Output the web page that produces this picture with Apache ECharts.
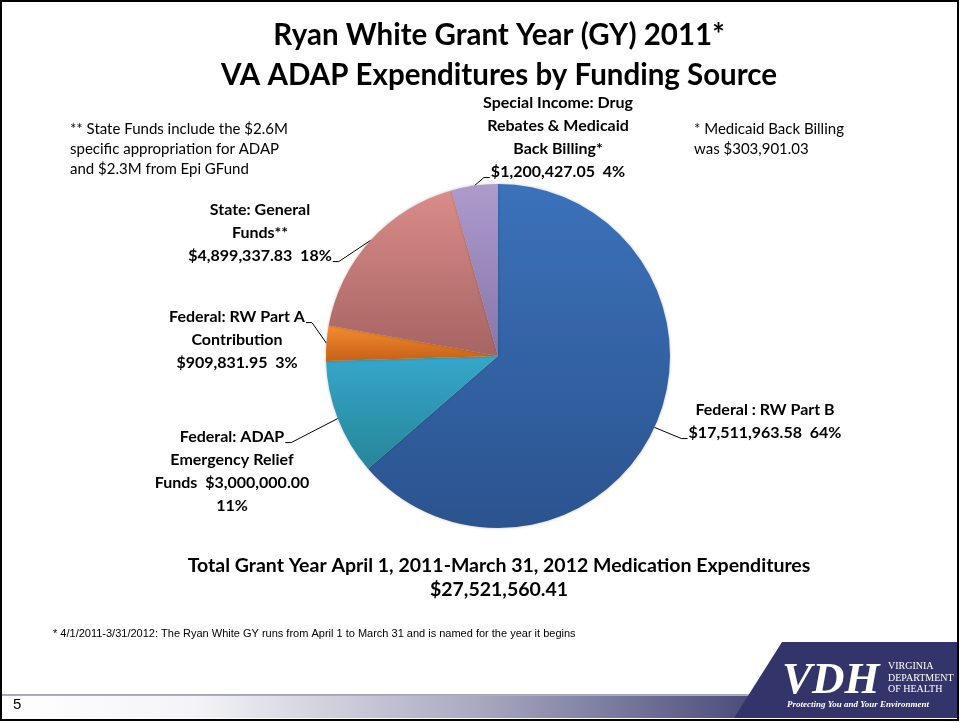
<!DOCTYPE html>
<html>
<head>
<meta charset="utf-8">
<script src="https://cdn.jsdelivr.net/npm/echarts@6/dist/echarts.min.js"></script>
<style>
html,body{margin:0;padding:0;background:#fff;}
#chart{width:961px;height:723px;}
</style>
</head>
<body>
<div id="chart"></div>
<script>
// ---- data ----
const categories = [
  'Federal : RW Part B',
  'Federal: ADAP Emergency Relief Funds',
  'Federal: RW Part A Contribution',
  'State: General Funds**',
  'Special Income: Drug Rebates & Medicaid Back Billing*'
];
const amounts = [17511963.58, 3000000.00, 909831.95, 4899337.83, 1200427.05];
const percentLabels = ['64%', '11%', '3%', '18%', '4%'];
const labelLines = [
  ['Federal : RW Part B', '$17,511,963.58  64%'],
  ['Federal: ADAP', 'Emergency Relief', 'Funds  $3,000,000.00', '11%'],
  ['Federal: RW Part A', 'Contribution', '$909,831.95  3%'],
  ['State: General', 'Funds**', '$4,899,337.83  18%'],
  ['Special Income: Drug', 'Rebates & Medicaid', 'Back Billing*', '$1,200,427.05  4%']
];
const titleLines = ['Ryan White Grant Year (GY) 2011*', 'VA ADAP Expenditures by Funding Source'];
const totalLines = ['Total Grant Year April 1, 2011-March 31, 2012 Medication Expenditures', '$27,521,560.41'];
const noteLeft = '** State Funds include the $2.6M\nspecific appropriation for ADAP\nand $2.3M from Epi GFund';
const noteRight = '* Medicaid Back Billing\nwas $303,901.03';
const footnote = '* 4/1/2011-3/31/2012: The Ryan White GY runs from April 1 to March 31 and is named for the year it begins';
const pageNumber = '5';

// ---- styles ----
const sliceColors = [
  ['#3b72ba', '#2b538f'],
  ['#35a7cb', '#268598'],
  ['#f48c32', '#c66116'],
  ['#da8c8a', '#a66462'],
  ['#ac9bcb', '#8675a8']
];
// label placement (layout only): centre x, top y, which text line the leader attaches to, and side
const labelPos = [
  {x: 765, y: 398, line: 1, side: 'left'},
  {x: 232, y: 425, line: 0, side: 'right'},
  {x: 237, y: 305, line: 0, side: 'right'},
  {x: 260, y: 198, line: 2, side: 'right'},
  {x: 558, y: 91, line: 3, side: 'left'}
];
const FONT = 'Lato, "Open Sans", sans-serif';
const LFS = 16, LLH = 23;

const measureCtx = document.createElement('canvas').getContext('2d');
measureCtx.font = 'bold ' + LFS + 'px ' + FONT;
function textW(s) { return measureCtx.measureText(s).width; }

const chart = echarts.init(document.getElementById('chart'), null, {renderer: 'canvas'});

const data = categories.map((c, i) => ({
  name: c,
  value: amounts[i],
  itemStyle: {
    color: new echarts.graphic.LinearGradient(0, 0, 0, 1, [
      {offset: 0, color: sliceColors[i][0]},
      {offset: 1, color: sliceColors[i][1]}
    ])
  }
}));

chart.setOption({
  animation: false,
  title: {
    text: titleLines.join('\n'),
    left: 494, top: 10, textAlign: 'center',
    textStyle: {fontFamily: FONT, fontWeight: 'bold', fontSize: 29.5, lineHeight: 40, color: '#000'}
  },
  graphic: [
    {type: 'rect', shape: {x: 1, y: 1, width: 957, height: 719}, style: {fill: 'none', stroke: '#000', lineWidth: 2}, z: 100},
    {type: 'rect', shape: {x: 2, y: 694, width: 956, height: 24},
      style: {fill: new echarts.graphic.LinearGradient(0, 0, 1, 0, [
        {offset: 0, color: '#ffffff'}, {offset: 0.2, color: '#f4f4f8'},
        {offset: 0.5, color: '#a8a8c0'}, {offset: 0.85, color: '#35366a'}, {offset: 1, color: '#33346a'}])}},
    {type: 'rect', shape: {x: 2, y: 694, width: 956, height: 2}, style: {fill: '#a9a9c6'}},
    {type: 'polygon', shape: {points: [[782, 642], [958, 642], [958, 718], [734, 718]]}, style: {fill: '#33346a'}},
    {type: 'text', left: 782, top: 659, style: {text: 'VDH', fill: '#fff', font: 'italic bold 45px "Liberation Serif", serif'}},
    {type: 'text', left: 888, top: 661, style: {text: 'VIRGINIA\nDEPARTMENT\nOF HEALTH', fill: '#fff', font: '10px "Liberation Serif", serif', lineHeight: 11.5}},
    {type: 'text', left: 787, top: 700, style: {text: 'Protecting You and Your Environment', fill: '#fff', font: 'italic bold 9px "Liberation Serif", serif'}},
    {type: 'text', left: 13, top: 697, style: {text: pageNumber, fill: '#000', font: '15px "Liberation Sans", Arial, sans-serif'}},
    {type: 'text', left: 70, top: 119, style: {text: noteLeft, fill: '#000', font: '15px ' + FONT, lineHeight: 20}},
    {type: 'text', left: 694, top: 119, style: {text: noteRight, fill: '#000', font: '15px ' + FONT, lineHeight: 20}},
    {type: 'text', x: 499, y: 554, style: {text: totalLines.join('\n'), fill: '#000', align: 'center', verticalAlign: 'top', font: 'bold 19.5px ' + FONT, lineHeight: 24}},
    {type: 'text', left: 53, top: 628, style: {text: footnote, fill: '#000', font: '11px "Liberation Sans Narrow", "Liberation Sans", Arial, sans-serif'}}
  ],
  series: [{
    type: 'pie',
    center: [498, 356],
    radius: 172,
    startAngle: 90,
    clockwise: true,
    data: data,
    itemStyle: {borderWidth: 0, shadowBlur: 3, shadowColor: 'rgba(0,0,0,0.25)'},
    label: {
      show: true,
      formatter: p => labelLines[p.dataIndex].join('\n'),
      fontFamily: FONT, fontWeight: 'bold', fontSize: LFS, lineHeight: LLH, color: '#000', align: 'center'
    },
    labelLine: {show: true, length: 10, length2: 10, lineStyle: {color: '#000', width: 1}},
    labelLayout: p => {
      const lp = labelPos[p.dataIndex];
      const w = textW(labelLines[p.dataIndex][lp.line]);
      const by = lp.y + LLH * lp.line + LLH / 2 + LFS * 0.38;
      const ax = lp.side === 'right' ? lp.x + w / 2 + 1 : lp.x - w / 2 - 1;
      const bx = lp.side === 'right' ? ax + 6 : ax - 6;
      const anchor = p.labelLinePoints ? p.labelLinePoints[0] : [bx, by];
      return {
        x: lp.x, y: lp.y, align: 'center', verticalAlign: 'top',
        labelLinePoints: [anchor, [bx, by], [ax, by]]
      };
    }
  }]
});
</script>
</body>
</html>
